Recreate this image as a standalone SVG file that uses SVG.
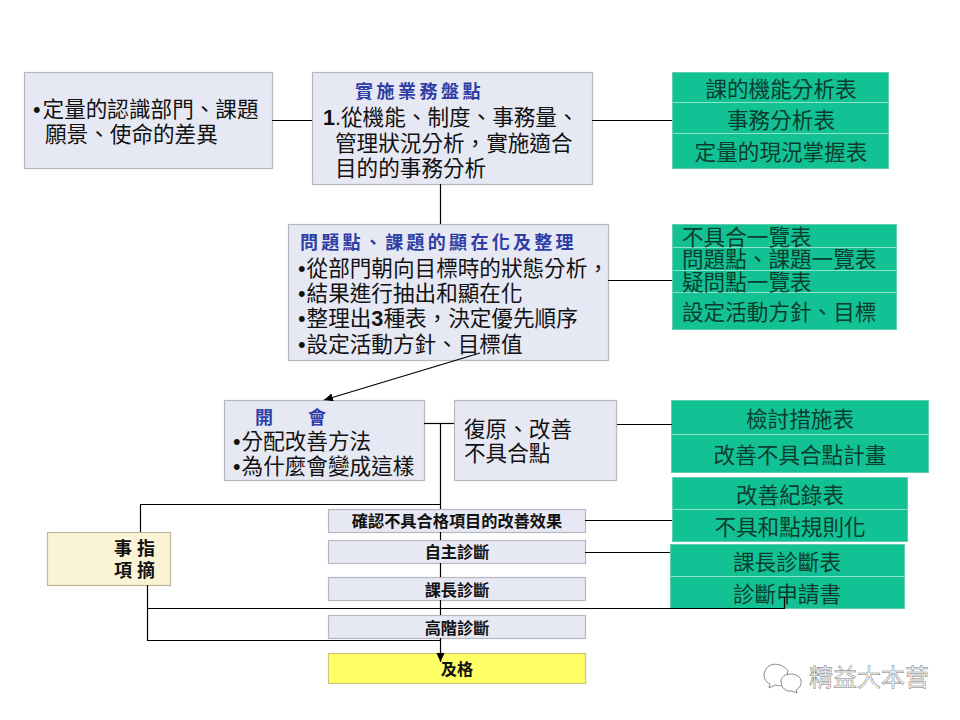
<svg xmlns="http://www.w3.org/2000/svg" width="960" height="720" viewBox="0 0 960 720">
<style>
text{font-family:"Liberation Sans","Noto Sans CJK TC",sans-serif}
.b{fill:#e6e8f3;stroke:#b6b7c2;stroke-width:1.2}
.g{fill:#12c194;stroke:#5fcfae;stroke-width:1}
.r{stroke:#8fe0ca;stroke-width:1;fill:none}
.t{font-size:21.6px;fill:#111}
.h{font-weight:700;fill:#2f3ea6;font-size:18px}
.gt{font-size:21.6px;fill:#0b3d2e}
.m{text-anchor:middle}
.s{font-size:16.2px;font-weight:700;fill:#111;text-anchor:middle}
.f{font-size:18px;font-weight:700;fill:#111}
.c{fill:none;stroke:#000;stroke-width:1.2}
.w{font-size:24px;fill:#fff;stroke:#777;stroke-width:.5}
.wi{fill:#fff;stroke:#888;stroke-width:1}
</style>
<defs><marker id="a" markerWidth="10" markerHeight="10" refX="9" refY="4" orient="auto" markerUnits="userSpaceOnUse"><path d="M0 0L9 4L0 8Z" fill="#000"/></marker></defs>
<rect width="960" height="720" fill="#fff"/>
<g id="n-definition"><rect class="b" x="24.500" y="72.500" width="248" height="96"/><text class="t" x="33" y="117">•<tspan dx="2">定量的認識部門、課題</tspan></text><text class="t" x="45" y="142">願景、使命的差異</text></g>
<g id="n-inventory"><rect class="b" x="312.500" y="72.500" width="280" height="112"/><text class="h" x="355" y="98" style="letter-spacing:3.500px">實施業務盤點</text><text class="t" x="323" y="125"><tspan font-weight="700">1</tspan>.從機能、制度、事務量、</text><text class="t" x="335" y="151">管理狀況分析，實施適合</text><text class="t" x="335" y="176">目的的事務分析</text></g>
<g id="n-tables1"><rect class="g" x="672.500" y="72.500" width="216" height="96"/><path class="r" d="M673 102.500H888M673 133.500H888"/><text class="gt m" x="781" y="97">課的機能分析表</text><text class="gt m" x="781" y="128">事務分析表</text><text class="gt m" x="781" y="160">定量的現況掌握表</text></g>
<g id="n-issues"><rect class="b" x="288.500" y="224.500" width="320" height="136"/><text class="h" x="300" y="249" style="letter-spacing:3.300px">問題點、課題的顯在化及整理</text><text class="t" x="298" y="276">•<tspan dx="1">從部門朝向目標時的狀態分析，</tspan></text><text class="t" x="298" y="301">•<tspan dx="1">結果進行抽出和顯在化</tspan></text><text class="t" x="298" y="326">•<tspan dx="1">整理出</tspan><tspan font-weight="700">3</tspan>種表，決定優先順序</text><text class="t" x="298" y="352">•<tspan dx="1">設定活動方針、目標值</tspan></text></g>
<g id="n-tables2"><rect class="g" x="672.500" y="224.500" width="224" height="105"/><path class="r" d="M673 247.500H896M673 270.500H896M673 292.500H896"/><text class="gt" x="682" y="245">不具合一覽表</text><text class="gt" x="682" y="267">問題點、課題一覽表</text><text class="gt" x="682" y="290">疑問點一覽表</text><text class="gt" x="682" y="320">設定活動方針、目標</text></g>
<g id="n-meeting"><rect class="b" x="224.500" y="400.500" width="200" height="80"/><text class="h" x="255" y="424">開</text><text class="h" x="308" y="424">會</text><text class="t" x="233" y="449">•<tspan dx="1">分配改善方法</tspan></text><text class="t" x="233" y="474">•<tspan dx="1">為什麼會變成這樣</tspan></text></g>
<g id="n-restore"><rect class="b" x="454.500" y="400.500" width="162" height="80"/><text class="t" x="464" y="437">復原、改善</text><text class="t" x="464" y="461">不具合點</text></g>
<g id="n-tables3"><rect class="g" x="671.500" y="400.500" width="257" height="72"/><path class="r" d="M672 434.500H928"/><text class="gt m" x="800" y="427">檢討措施表</text><text class="gt m" x="800" y="463">改善不具合點計畫</text></g>
<g id="n-tables4"><rect class="g" x="672.500" y="477.500" width="235" height="64"/><path class="r" d="M673 509.500H907"/><text class="gt m" x="790" y="503">改善紀錄表</text><text class="gt m" x="790" y="535">不具和點規則化</text></g>
<g id="n-tables5"><rect class="g" x="670.500" y="544.500" width="234" height="64"/><path class="r" d="M671 576.500H904"/><text class="gt m" x="787" y="570">課長診斷表</text><text class="gt m" x="787" y="602">診斷申請書</text></g>
<g id="n-notes"><rect x="47.500" y="532.500" width="123" height="53" fill="#fbf3d6" stroke="#bdb89c" stroke-width="1.200"/><text class="f" x="114" y="555">事 指</text><text class="f" x="114" y="577">項 摘</text></g>
<g id="n-confirm"><rect class="b" x="328.500" y="509.500" width="257" height="23"/><text class="s" x="457" y="527">確認不具合格項目的改善效果</text></g>
<g id="n-self"><rect class="b" x="328.500" y="540.500" width="257" height="23"/><text class="s" x="457" y="558">自主診斷</text></g>
<g id="n-chief"><rect class="b" x="328.500" y="577.500" width="257" height="23"/><text class="s" x="457" y="596">課長診斷</text></g>
<g id="n-senior"><rect class="b" x="328.500" y="615.500" width="257" height="23"/><text class="s" x="457" y="634">高階診斷</text></g>
<g id="n-pass"><rect x="328.500" y="653.500" width="257" height="30" fill="#ffff66" stroke="#c9c878" stroke-width="1.200"/><text class="s" x="457" y="675">及格</text></g>
<g id="watermark"><path class="wi" d="M788 671C782 662 768 662 765 671C762 677 766 682 770 684L769 688L775 685C778 686 781 686 784 685Z"/><path class="wi" d="M781 681C781 673 798 671 801 680C802 686 798 689 796 690L797 693L792 691C786 692 781 688 781 681Z"/><text class="w" x="809" y="686">精益大本营</text></g>
<g id="connectors">
<path class="c" d="M272 120.500H312"/>
<path class="c" d="M592 120.500H672"/>
<path class="c" d="M440.500 184V224"/>
<path class="c" d="M608 280.500H672"/>
<path class="c" d="M480 353L324 400" marker-end="url(#a)"/>
<path class="c" d="M424 423.500H454"/>
<path class="c" d="M617 424.500H672"/>
<path class="c" d="M440.500 423V509M440.500 532V540M440.500 563V577M440.500 600V615"/>
<path class="c" d="M440.500 638V662" marker-end="url(#a)"/>
<path class="c" d="M440.500 504.500H140.500V532"/>
<path class="c" d="M147.500 585V640.500H440"/>
<path class="c" d="M147.500 608.500H784.500V597"/>
<path class="c" d="M585 520.500H672"/>
<path class="c" d="M585 552.500H670"/>
</g>
</svg>
